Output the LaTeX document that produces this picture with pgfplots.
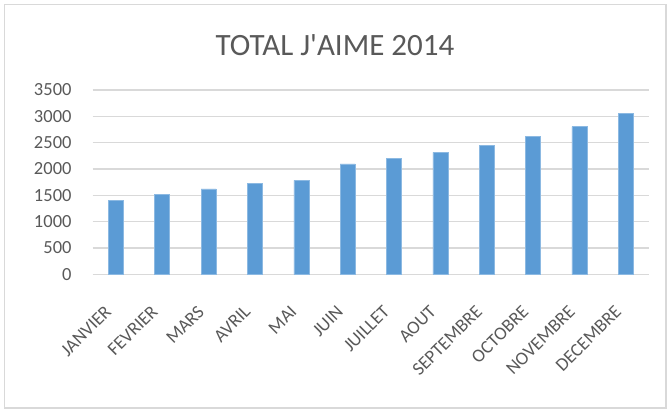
\documentclass[border=0pt]{standalone}
\usepackage{fontspec}
\setmainfont{Carlito}
\usepackage{pgfplots}
\pgfplotsset{compat=1.18}
\definecolor{barblue}{HTML}{5B9BD5}
\definecolor{gridgray}{HTML}{D9D9D9}
\definecolor{textgray}{HTML}{595959}
\begin{document}
\begin{tikzpicture}[x=1pt,y=1pt]
  \path (0,0) rectangle (667,409);
  \draw[gridgray, line width=1.5pt] (4.5,1) rectangle (666,404.5);
  \node[textgray, font=\fontsize{31}{34}\selectfont] at (335,364) {TOTAL J\textquotesingle AIME 2014};
  \begin{axis}[
      at={(92.7pt,134.7pt)}, anchor=south west,
      scale only axis,
      width=556.3pt, height=184.3pt,
      ybar, bar width=15pt,
      ymin=0, ymax=3500,
      ytick={0,500,...,3500},
      xmin=-0.5, xmax=11.5,
      xtick={0,...,11},
      xticklabels={JANVIER,FEVRIER,MARS,AVRIL,MAI,JUIN,JUILLET,AOUT,SEPTEMBRE,OCTOBRE,NOVEMBRE,DECEMBRE},
      axis line style={draw=none},
      major tick length=0pt,
      ymajorgrids=true,
      grid style={gridgray, line width=1.5pt},
      tick label style={textgray, font=\fontsize{18.5}{20}\selectfont},
      /pgf/number format/assume math mode=true,
      /pgf/number format/1000 sep={},
      yticklabel style={inner sep=0pt, xshift=-21pt},
      xticklabel style={xshift=-12pt, yshift=-30pt, rotate=45, anchor=north east, inner sep=0pt},
      clip=false,
    ]
    \addplot[fill=barblue, draw=barblue!70!white, line width=0.6pt, bar shift=0pt]
      coordinates {(0,1398)(1,1519)(2,1620)(3,1728)(4,1785)(5,2095)(6,2203)(7,2317)(8,2450)(9,2626)(10,2803)(11,3057)};
  \end{axis}
\end{tikzpicture}
\end{document}
